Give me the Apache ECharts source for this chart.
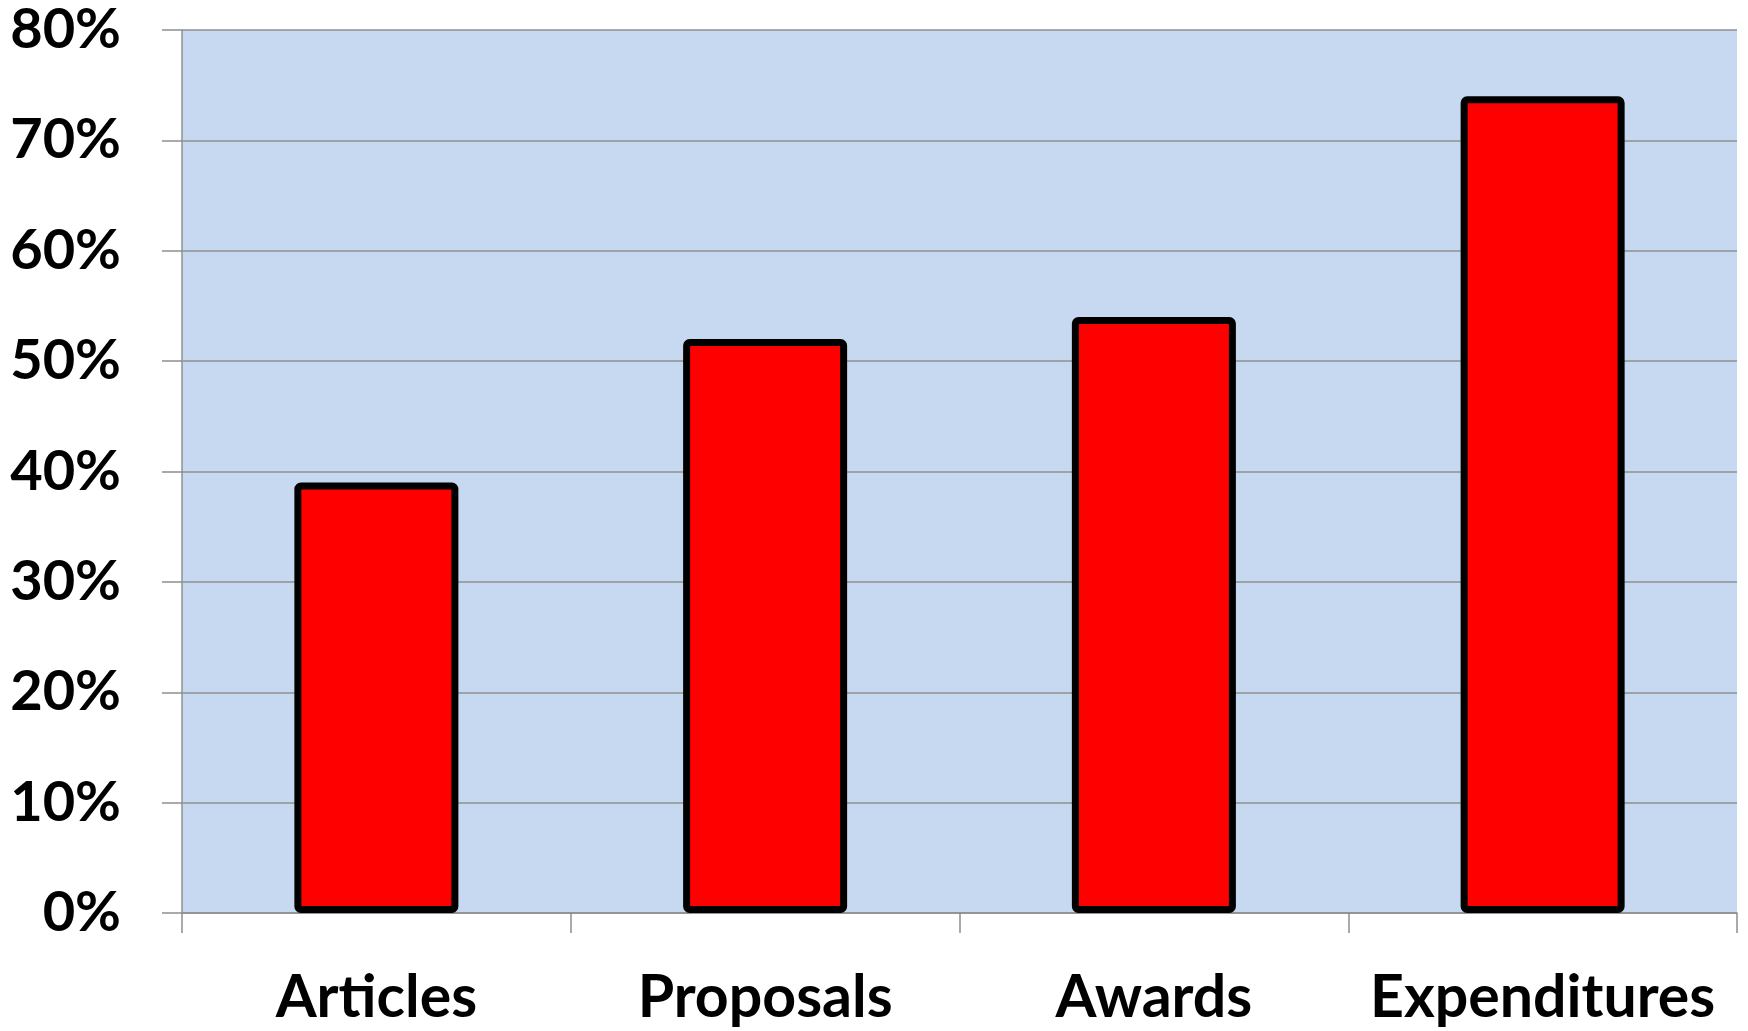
<!DOCTYPE html>
<html>
<head>
<meta charset="utf-8">
<title>Share by category</title>
<script src="https://cdn.jsdelivr.net/npm/echarts@6/dist/echarts.min.js"></script>
<style>
  html, body { margin: 0; padding: 0; background: #ffffff; }
  #chart { width: 1748px; height: 1031px; }
</style>
</head>
<body>
<div id="chart"></div>
<script>
// Categories along the x axis
const categories = ['Articles', 'Proposals', 'Awards', 'Expenditures'];
// Percent share for each category
const shares = [39, 52, 54, 74];
// Value axis range and step (percent)
const yMin = 0;
const yMax = 80;
const yStep = 10;

const labelFont = 'Lato, "Noto Sans", sans-serif';
const gridGray = '#8f8f8f';

const chart = echarts.init(document.getElementById('chart'), null, { renderer: 'canvas' });

chart.setOption({
  backgroundColor: '#ffffff',
  animation: false,
  grid: {
    left: 182,
    right: 11,
    top: 30,
    bottom: 118,
    show: true,
    backgroundColor: '#C6D9F0',
    borderWidth: 0
  },
  xAxis: {
    type: 'category',
    data: categories,
    boundaryGap: true,
    axisLine: { show: true, lineStyle: { color: gridGray, width: 1.5 } },
    axisTick: { show: true, interval: 0, length: 20, alignWithLabel: false, lineStyle: { color: gridGray, width: 1.5 } },
    axisLabel: {
      interval: 0,
      margin: 55,
      color: '#000000',
      fontFamily: labelFont,
      fontWeight: 'bold',
      fontSize: 59
    },
    splitLine: { show: false }
  },
  yAxis: {
    type: 'value',
    min: yMin,
    max: yMax,
    interval: yStep,
    axisLine: { show: true, lineStyle: { color: gridGray, width: 1.5 } },
    axisTick: { show: true, inside: false, length: 20, lineStyle: { color: gridGray, width: 1.5 } },
    axisLabel: {
      margin: 61,
      color: '#000000',
      fontFamily: labelFont,
      fontWeight: 'bold',
      fontSize: 56,
      formatter: '{value}%'
    },
    splitLine: { show: true, lineStyle: { color: gridGray, width: 1.5 } }
  },
  series: [{
    type: 'bar',
    data: shares,
    barWidth: 164,
    itemStyle: {
      color: '#FF0000',
      borderColor: '#000000',
      borderWidth: 7,
      borderRadius: 3
    }
  }]
});
</script>
</body>
</html>
